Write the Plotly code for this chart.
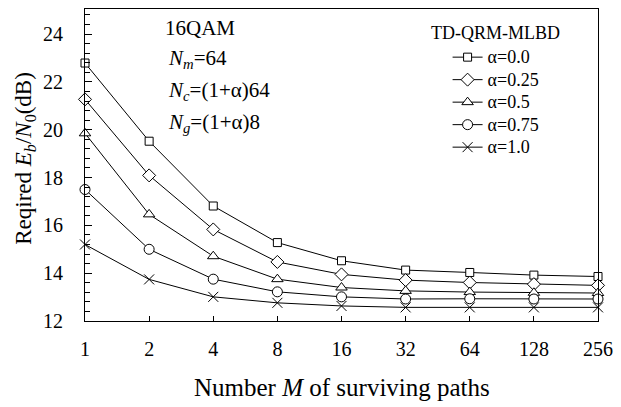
import plotly.graph_objects as go

M_labels = ["1", "2", "4", "8", "16", "32", "64", "128", "256"]
alpha_names = ["α=0.0", "α=0.25", "α=0.5", "α=0.75", "α=1.0"]
eb_a000 = [22.79, 19.52, 16.81, 15.28, 14.52, 14.13, 14.03, 13.92, 13.86]
eb_a025 = [21.27, 18.09, 15.83, 14.47, 13.95, 13.71, 13.61, 13.54, 13.49]
eb_a050 = [19.85, 16.46, 14.71, 13.75, 13.40, 13.26, 13.21, 13.18, 13.17]
eb_a075 = [17.50, 15.00, 13.75, 13.22, 13.01, 12.92, 12.93, 12.92, 12.92]
eb_a100 = [15.20, 13.74, 13.01, 12.76, 12.63, 12.57, 12.57, 12.57, 12.57]
series = [eb_a000, eb_a025, eb_a050, eb_a075, eb_a100]
symbols = ["square", "diamond", "triangle-up", "circle", "x-thin"]
sizes = [8, 10, 10, 10, 10]

FONT = "Liberation Serif, Times New Roman, serif"
W, H = 621, 407
ml, mr, mt, mb = 85, 21, 8, 86
pw, ph = W - ml - mr, H - mt - mb

def px(x):
    return (x - ml) / pw

def py(y):
    return (H - mb - y) / ph

fig = go.Figure()
for name, vals, sym, sz in zip(alpha_names, series, symbols, sizes):
    fig.add_trace(go.Scatter(
        x=M_labels, y=vals, mode="lines+markers",
        name='<span style="font-size:18px">' + name + '</span>',
        line=dict(color="black", width=1),
        marker=dict(symbol=sym, size=sz, color="white",
                    line=dict(color="black", width=1)),
        cliponaxis=False,
    ))

fig.update_layout(
    width=W, height=H,
    margin=dict(l=ml, r=mr, t=mt, b=mb),
    paper_bgcolor="white", plot_bgcolor="white",
    font=dict(family=FONT, size=20, color="black"),
    showlegend=True,
    legend=dict(x=px(449), y=py(40), xanchor="left", yanchor="top",
                bgcolor="rgba(0,0,0,0)", font=dict(family=FONT, size=15),
                tracegroupgap=0, itemwidth=30),
    xaxis=dict(type="category", range=[0, 8], showline=True, linecolor="black",
               linewidth=1, mirror=True, ticks="inside", ticklen=5,
               tickcolor="black", showgrid=False, ticklabelstandoff=10,
               tickfont=dict(family=FONT, size=20)),
    yaxis=dict(range=[12, 25.05], showline=True, linecolor="black", linewidth=1,
               mirror=True, ticks="inside", ticklen=7, tickcolor="black",
               dtick=2, tick0=12, showgrid=False, zeroline=False,
               ticklabelstandoff=17, tickfont=dict(family=FONT, size=20),
               minor=dict(dtick=0.4, tick0=12, ticks="inside", ticklen=5,
                          tickcolor="black", showgrid=False)),
)

ann = [
    dict(text="16QAM", x=px(163), y=py(27)),
    dict(text="<i>N</i><sub><i>m</i></sub>=64", x=px(166), y=py(58)),
    dict(text="<i>N</i><sub><i>c</i></sub>=(1+α)64", x=px(166), y=py(90)),
    dict(text="<i>N</i><sub><i>g</i></sub>=(1+α)8", x=px(166), y=py(122)),
]
for a in ann:
    fig.add_annotation(text=a["text"], x=a["x"], y=a["y"], xref="paper", yref="paper",
                       xanchor="left", yanchor="middle", showarrow=False,
                       font=dict(family=FONT, size=21))
fig.add_annotation(text="TD-QRM-MLBD", x=px(497), y=py(32), xref="paper", yref="paper",
                   xanchor="center", yanchor="middle", showarrow=False,
                   font=dict(family=FONT, size=18))
fig.add_annotation(text="Reqired <i>E</i><sub><i>b</i></sub>/<i>N</i><sub>0</sub>(dB)",
                   x=px(24), y=py(158), xref="paper", yref="paper", textangle=-90,
                   xanchor="center", yanchor="middle", showarrow=False,
                   font=dict(family=FONT, size=23))
fig.add_annotation(text="Number <i>M</i> of surviving paths",
                   x=px(343), y=py(388), xref="paper", yref="paper",
                   xanchor="center", yanchor="middle", showarrow=False,
                   font=dict(family=FONT, size=25))

fig.write_html("out.html")
